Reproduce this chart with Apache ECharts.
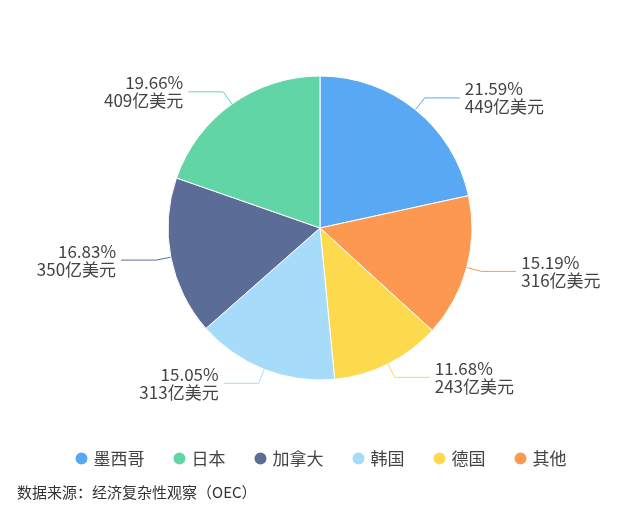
<!DOCTYPE html>
<html>
<head>
<meta charset="utf-8">
<script src="https://cdn.jsdelivr.net/npm/echarts@6/dist/echarts.min.js"></script>
<style>
html,body{margin:0;padding:0;background:#fff;}
#main{width:640px;height:517px;}
</style>
</head>
<body>
<div id="main"></div>
<script>
// slices clockwise from top
var countries = ['墨西哥', '其他', '德国', '韩国', '加拿大', '日本'];
var values = [449, 316, 243, 313, 350, 409];
var percents = ['21.59%', '15.19%', '11.68%', '15.05%', '16.83%', '19.66%'];
var legendOrder = ['墨西哥', '日本', '加拿大', '韩国', '德国', '其他'];
var colors = ['#58a8f4', '#fc9850', '#fdd94d', '#a6dcfa', '#5b6d96', '#62d5a7'];

var chart = echarts.init(document.getElementById('main'));
var pieData = [];
for (var i = 0; i < countries.length; i++) {
    pieData.push({
        name: countries[i],
        value: values[i],
        pct: percents[i],
        itemStyle: {color: colors[i]},
        labelLine: {lineStyle: {color: colors[i]}}
    });
}

var option = {
    backgroundColor: '#fff',
    legend: {
        data: legendOrder,
        top: 445,
        left: 'center',
        icon: 'circle',
        itemWidth: 14,
        itemHeight: 14,
        itemGap: 27,
        textStyle: {fontSize: 17, color: '#444', fontFamily: 'Noto Sans CJK SC'}
    },
    graphic: [{
        type: 'text',
        left: 17,
        top: 485,
        style: {
            text: '数据来源：经济复杂性观察（OEC）',
            fontSize: 15,
            fill: '#333',
            fontFamily: 'Noto Sans CJK SC'
        }
    }],
    series: [{
        type: 'pie',
        center: [320, 228],
        radius: 152,
        startAngle: 90,
        clockwise: true,
        data: pieData,
        itemStyle: {borderColor: '#fff', borderWidth: 1},
        label: {
            formatter: function (p) {
                return p.data.pct + '\n' + p.value + '亿美元';
            },
            fontSize: 17,
            lineHeight: 18,
            color: '#444',
            fontFamily: 'Noto Sans CJK SC'
        },
        labelLine: {length: 15, length2: 35, lineStyle: {width: 1}}
    }]
};
chart.setOption(option);
</script>
</body>
</html>
